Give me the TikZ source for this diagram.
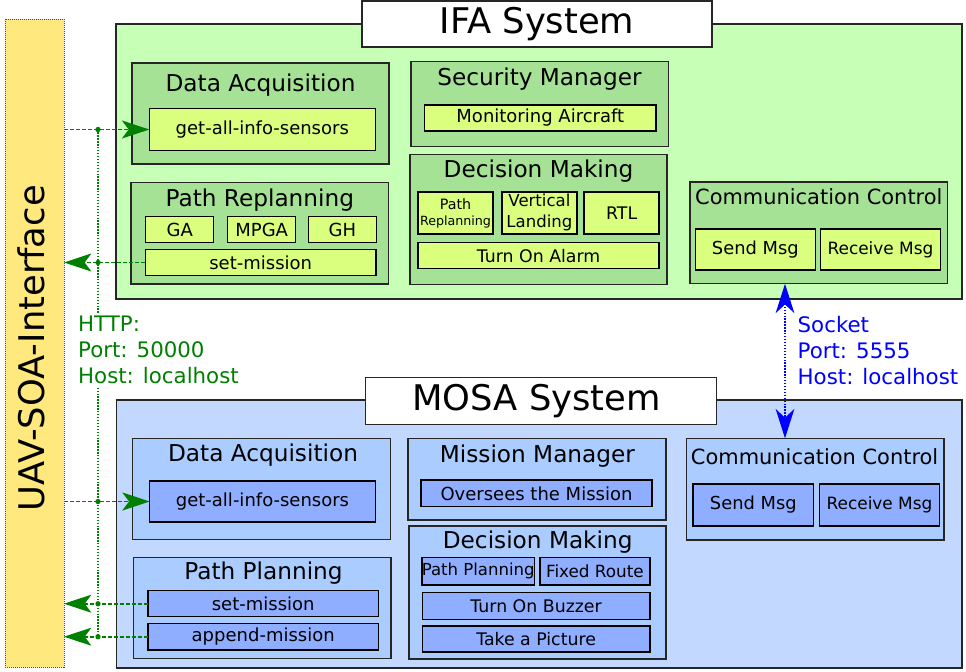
\documentclass[tikz,border=0pt]{standalone}
\usepackage{fontspec}
\setmainfont{DejaVu Sans}
\usetikzlibrary{arrows.meta}

\definecolor{uavyellow}{RGB}{255,233,127}
\definecolor{ifaback}{RGB}{200,255,183}
\definecolor{ifamodule}{RGB}{165,226,149}
\definecolor{ifaitem}{RGB}{218,255,127}
\definecolor{mosaback}{RGB}{195,216,255}
\definecolor{mosamodule}{RGB}{170,204,255}
\definecolor{mosaitem}{RGB}{143,174,255}
\definecolor{httpgreen}{RGB}{0,128,0}

\newcommand{\sysfont}{\fontsize{26.5}{30}\selectfont}
\newcommand{\modfont}{\fontsize{17.4}{20}\selectfont}
\newcommand{\commfont}{\fontsize{15.7}{18}\selectfont}
\newcommand{\itemfont}{\fontsize{13.5}{16}\selectfont}
\newcommand{\dmfont}{\fontsize{13}{15.75}\selectfont}
\newcommand{\labelfont}{\fontsize{16}{19.5}\selectfont}

\tikzset{every picture/.style={line width=0.75pt}}
\tikzset{
  httptip/.tip={Stealth[length=20.5pt,width=13.5pt,inset=5pt]},
  sockettip/.tip={Stealth[length=22pt,width=14pt,inset=6.5pt]},
  uavbox/.style={draw=black!70, fill=uavyellow, dash pattern=on 0.75pt off 0.75pt, line width=0.75pt, inner sep=0pt, outer sep=0pt},
  sysbox/.style={draw=black!85, line width=1.1pt, inner sep=0pt, outer sep=0pt},
  modbox/.style={draw=black!85, line width=1pt, inner sep=0pt, outer sep=0pt},
  elembox/.style={draw=black, line width=1.1pt, inner sep=0pt, outer sep=0pt, align=center, font=\itemfont},
  ifamod/.style={modbox, fill=ifamodule},
  ifaelem/.style={elembox, fill=ifaitem},
  mosamod/.style={modbox, fill=mosamodule},
  mosaelem/.style={elembox, fill=mosaitem},
  modtitle/.style={inner sep=0pt, font=\modfont, anchor=base},
  commtitle/.style={modtitle, font=\commfont},
  httplink/.style={httpgreen, line width=1.3pt, dash pattern=on 3pt off 1.5pt},
  httpbus/.style={httpgreen, line width=1.1pt, dash pattern=on 1pt off 1.2pt},
  socketlink/.style={blue, line width=1.1pt, dash pattern=on 1pt off 1.2pt, {sockettip}-{sockettip}}
}

\begin{document}
\begin{tikzpicture}[x=0.75pt,y=0.75pt,yscale=-1,xscale=1]
\useasboundingbox (0,0) rectangle (966,671);

%Shape: Rectangle [UAV-SOA-Interface]
\node[uavbox, minimum width=44.25pt, minimum height=486pt] (uav) at (34.5,343) {};
% Text Node
\node[rotate=90, font=\sysfont, inner sep=0pt] (uavlabel) at (31.5,348.5) {UAV-SOA-Interface};

%Shape: Rectangle [IFA System]
\node[sysbox, fill=ifaback, minimum width=634.5pt, minimum height=206.25pt] (ifa) at (539,161.5) {};
\node[sysbox, fill=white, minimum width=262.5pt, minimum height=34.5pt, font=\sysfont] (ifatitle) at (537,24) {IFA System};

%Shape: Rectangle [IFA Data Acquisition]
\node[ifamod, minimum width=192.75pt, minimum height=75.75pt] (ifadaq) at (260.5,113.5) {};
\node[modtitle] (ifadaqtitle) at (260.5,91) {Data Acquisition};
\node[ifaelem, minimum width=169.5pt, minimum height=31.2pt] (ifaget) at (262.3,129.5) {get-all-info-sensors};

%Shape: Rectangle [IFA Path Replanning]
\node[ifamod, minimum width=193.3pt, minimum height=76.3pt] (ifapath) at (259.8,233.2) {};
\node[modtitle] (ifapathtitle) at (259.8,206.3) {Path Replanning};
\node[ifaelem, minimum width=51pt, minimum height=19.5pt] (ifaga) at (179.7,229.7) {GA};
\node[ifaelem, minimum width=51pt, minimum height=19.5pt] (ifampga) at (261.7,229.7) {MPGA};
\node[ifaelem, minimum width=51pt, minimum height=19.5pt] (ifagh) at (342.3,229.7) {GH};
\node[ifaelem, minimum width=173pt, minimum height=19.8pt] (ifaset) at (260.7,262.5) {set-mission};

%Shape: Rectangle [IFA Security Manager]
\node[ifamod, minimum width=193pt, minimum height=63.75pt] (ifasec) at (539.5,104.2) {};
\node[modtitle] (ifasectitle) at (539.5,85.3) {Security Manager};
\node[ifaelem, minimum width=173.6pt, minimum height=19.5pt] (ifamon) at (540.3,118) {Monitoring Aircraft};

%Shape: Rectangle [IFA Decision Making]
\node[ifamod, minimum width=192.75pt, minimum height=97.5pt] (ifadm) at (538.5,219.3) {};
\node[modtitle] (ifadmtitle) at (538.5,177.7) {Decision Making};
\node[ifaelem, minimum width=56.25pt, minimum height=31.7pt, font=\fontsize{10}{12}\selectfont] (ifareplan) at (455.5,212.9) {{\fontsize{10.7}{12}\selectfont Path}\\{\fontsize{9.5}{12}\selectfont Replanning}};
\node[ifaelem, minimum width=56.25pt, minimum height=31.7pt, font=\fontsize{12.4}{15.75}\selectfont] (ifavert) at (539.4,212.9) {Vertical\\Landing};
\node[ifaelem, minimum width=56.25pt, minimum height=31.7pt, font=\dmfont] (ifartl) at (621.7,212.9) {RTL};
\node[ifaelem, minimum width=180.9pt, minimum height=19.5pt, font=\dmfont] (ifaalarm) at (538.6,255.7) {Turn On Alarm};

%Shape: Rectangle [IFA Communication Control]
\node[ifamod, minimum width=193pt, minimum height=76.3pt] (ifacomm) at (818.6,232.9) {};
\node[commtitle] (ifacommtitle) at (818.8,204) {Communication Control};
\node[ifaelem, minimum width=90pt, minimum height=31pt, font=\fontsize{13.4}{16}\selectfont] (ifasend) at (755.3,249.5) {Send Msg};
\node[ifaelem, minimum width=89.9pt, minimum height=31pt, font=\fontsize{12.7}{15}\selectfont] (ifarecv) at (880.5,249.5) {Receive Msg};

%Shape: Rectangle [MOSA System]
\node[sysbox, fill=mosaback, minimum width=634pt, minimum height=200.8pt] (mosa) at (539.4,533.9) {};
\node[sysbox, fill=white, minimum width=263.25pt, minimum height=35pt] (mosatitle) at (541.2,401) {};
% Text Node
\node[font=\sysfont, inner sep=0pt] (mosatitletext) at (536.5,401) {MOSA System};

%Shape: Rectangle [MOSA Data Acquisition]
\node[mosamod, minimum width=193.2pt, minimum height=75.75pt] (mosadaq) at (261.5,488.8) {};
\node[modtitle] (mosadaqtitle) at (263,461.7) {Data Acquisition};
\node[mosaelem, minimum width=169.2pt, minimum height=30.75pt] (mosaget) at (262.5,501.5) {get-all-info-sensors};

%Shape: Rectangle [MOSA Path Planning]
\node[mosamod, minimum width=193pt, minimum height=76pt] (mosapath) at (262.3,608) {};
\node[modtitle] (mosapathtitle) at (263.5,579.3) {Path Planning};
\node[mosaelem, minimum width=172.7pt, minimum height=19.5pt] (mosaset) at (263.2,603.7) {set-mission};
\node[mosaelem, minimum width=172.7pt, minimum height=20pt] (mosaappend) at (263.2,636.7) {append-mission};

%Shape: Rectangle [MOSA Mission Manager]
\node[mosamod, minimum width=193.5pt, minimum height=61.3pt] (mosamm) at (537,479.2) {};
\node[modtitle] (mosammtitle) at (537.4,462.3) {Mission Manager};
\node[mosaelem, minimum width=173.25pt, minimum height=20pt] (mosaover) at (536.5,493.3) {Oversees the Mission};

%Shape: Rectangle [MOSA Decision Making]
\node[mosamod, minimum width=192.75pt, minimum height=99.75pt] (mosadm) at (537.5,592.5) {};
\node[modtitle] (mosadmtitle) at (537.7,548.7) {Decision Making};
\node[mosaelem, minimum width=83.6pt, minimum height=20.5pt, font=\fontsize{12.4}{15}\selectfont] (mosaplan) at (478.2,571.3) {Path Planning};
\node[mosaelem, minimum width=82.35pt, minimum height=20.5pt, font=\fontsize{12.6}{15}\selectfont] (mosafixed) at (594.9,571.3) {Fixed Route};
\node[mosaelem, minimum width=170.55pt, minimum height=20pt, font=\dmfont] (mosabuzz) at (536.1,606) {Turn On Buzzer};
\node[mosaelem, minimum width=170.55pt, minimum height=19.5pt, font=\dmfont] (mosapic) at (536.1,639) {Take a Picture};

%Shape: Rectangle [MOSA Communication Control]
\node[mosamod, minimum width=193.3pt, minimum height=76.3pt] (mosacomm) at (815.2,489.2) {};
\node[commtitle] (mosacommtitle) at (814.6,464.3) {Communication Control};
\node[mosaelem, minimum width=90.2pt, minimum height=31.7pt, font=\fontsize{13.4}{16}\selectfont] (mosasend) at (753.3,504.9) {Send Msg};
\node[mosaelem, minimum width=89.9pt, minimum height=31.7pt, font=\fontsize{12.7}{15}\selectfont] (mosarecv) at (879.5,504.9) {Receive Msg};

%Straight Lines [HTTP]
\coordinate (bus) at (98,0);
\draw[httpbus] (bus |- ifaget) -- (bus |- mosaappend);
\draw[httplink, -{httptip}] (uav.east |- ifaget) -- (ifaget.west);
\draw[httplink, -{httptip}] (ifaset.west) -- (uav.east |- ifaset);
\draw[httplink, -{httptip}] (uav.east |- mosaget) -- (mosaget.west);
\draw[httplink, -{httptip}] (mosaset.west) -- (uav.east |- mosaset);
\draw[httplink, -{httptip}] (mosaappend.west) -- (uav.east |- mosaappend);
\foreach \n in {ifaget,ifaset,mosaget,mosaset,mosaappend}
  \fill[httpgreen] (bus |- \n) circle[radius=2pt];

%Straight Lines [Socket]
\coordinate (sock) at (785,0);
\draw[socketlink] (sock |- ifacomm.south) -- (sock |- mosacomm.north);

% Text Node
\node[anchor=north west, fill=white, inner sep=2pt, align=left, text=httpgreen, font=\labelfont] (httpinfo) at (75,313) {HTTP:\\Port: 50000\\Host: localhost};
% Text Node
\node[anchor=north west, inner sep=2pt, align=left, text=blue, font=\labelfont] (socketinfo) at (794.5,313) {Socket\\Port: 5555\\Host: localhost};

\end{tikzpicture}
\end{document}
